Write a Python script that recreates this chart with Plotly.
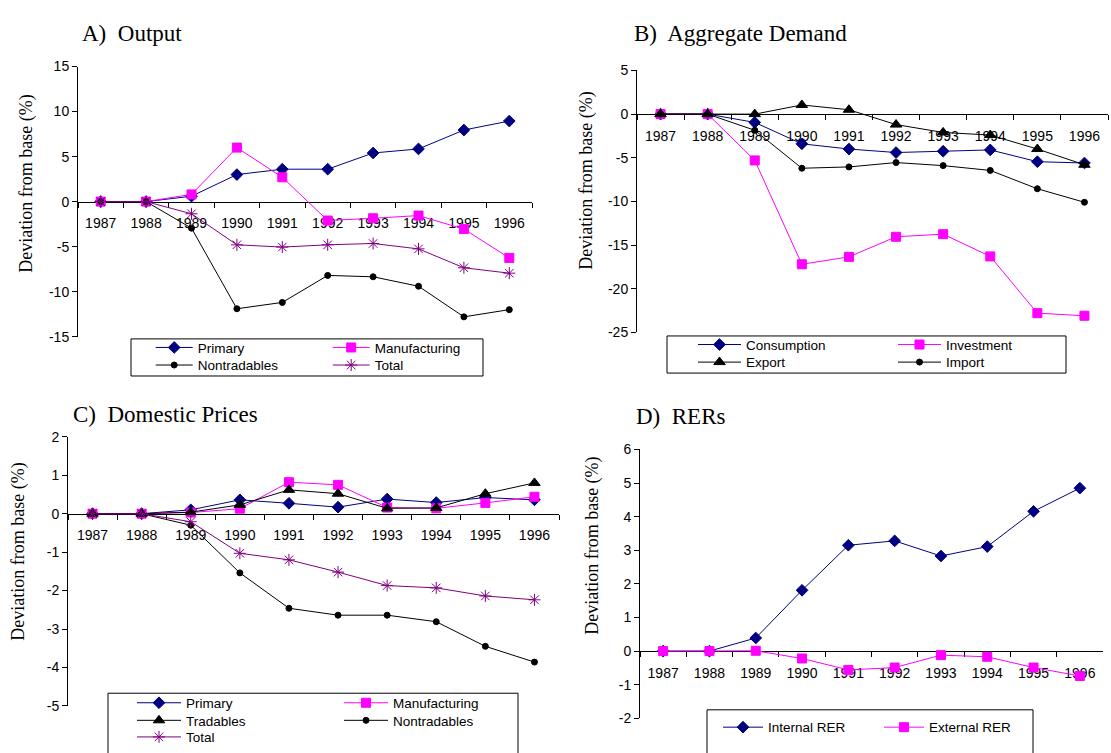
import plotly.graph_objects as go

W, H = 1111, 753

years = ["1987", "1988", "1989", "1990", "1991", "1992", "1993", "1994", "1995", "1996"]

# A) Output
out_primary = [0, 0, 0.6, 3.0, 3.6, 3.6, 5.4, 5.85, 7.95, 8.95]
out_manufacturing = [0, 0, 0.8, 6.0, 2.7, -2.1, -1.85, -1.55, -3.05, -6.25]
out_nontradables = [0, 0, -2.95, -11.9, -11.2, -8.2, -8.35, -9.4, -12.8, -12.0]
out_total = [0, 0, -1.35, -4.8, -5.05, -4.8, -4.65, -5.25, -7.35, -7.95]
out_ticks = [-15, -10, -5, 0, 5, 10, 15]
out_ticktext = ["-15", "-10", "-5", "0", "5", "10", "15"]

# B) Aggregate Demand
ad_consumption = [0, 0, -0.95, -3.4, -4.0, -4.4, -4.25, -4.1, -5.45, -5.6]
ad_investment = [0, 0, -5.3, -17.2, -16.35, -14.05, -13.75, -16.3, -22.8, -23.1]
ad_export = [0, 0, 0.0, 1.05, 0.5, -1.2, -2.1, -2.4, -4.0, -5.8]
ad_import = [0, 0, -1.85, -6.2, -6.05, -5.55, -5.9, -6.45, -8.55, -10.1]
ad_ticks = [-25, -20, -15, -10, -5, 0, 5]
ad_ticktext = ["-25", "-20", "-15", "-10", "-5", "0", "5"]

# C) Domestic Prices
pr_primary = [0, 0, 0.1, 0.36, 0.27, 0.17, 0.38, 0.29, 0.42, 0.36]
pr_manufacturing = [0, 0, 0.03, 0.13, 0.82, 0.75, 0.16, 0.14, 0.28, 0.44]
pr_tradables = [0, 0, 0.04, 0.23, 0.62, 0.52, 0.14, 0.15, 0.52, 0.8]
pr_nontradables = [0, 0, -0.3, -1.54, -2.46, -2.64, -2.64, -2.81, -3.45, -3.86]
pr_total = [0, 0, -0.21, -1.03, -1.2, -1.52, -1.87, -1.93, -2.14, -2.24]
pr_ticks = [-5, -4, -3, -2, -1, 0, 1, 2]
pr_ticktext = ["-5", "-4", "-3", "-2", "-1", "0", "1", "2"]

# D) RERs
rer_internal = [0, 0, 0.39, 1.81, 3.15, 3.28, 2.83, 3.11, 4.16, 4.85]
rer_external = [0, 0, 0.01, -0.22, -0.56, -0.49, -0.12, -0.17, -0.49, -0.74]
rer_ticks = [-2, -1, 0, 1, 2, 3, 4, 5, 6]
rer_ticktext = ["-2", "-1", "0", "1", "2", "3", "4", "5", "6"]

NAVY = "#000080"
MAG = "#FF00FF"
BLK = "#000000"
PUR = "#800080"

STY = {
    "diamond": dict(color=NAVY, symbol="diamond", size=9),
    "square": dict(color=MAG, symbol="square", size=9),
    "circle": dict(color=BLK, symbol="circle", size=6),
    "triangle": dict(color=BLK, symbol="triangle-up", size=10),
    "star": dict(color=PUR, symbol="asterisk-open", size=10),
}


def fx(px):
    return px / W


def fy(py):
    return 1 - py / H


fig = go.Figure()

panels = [
    dict(k="", xd=(78, 532), yd=(60, 336.7), rng=(-15, 15), tv=out_ticks, tt=out_ticktext),
    dict(k="2", xd=(637, 1108), yd=(64, 332.3), rng=(-25, 5), tv=ad_ticks, tt=ad_ticktext),
    dict(k="3", xd=(68, 559), yd=(439.3, 715), rng=(-5, 2), tv=pr_ticks, tt=pr_ticktext),
    dict(k="4", xd=(640, 1103), yd=(452.3, 727.7), rng=(-2, 6), tv=rer_ticks, tt=rer_ticktext),
]

series = [
    (0, "Primary", out_primary, "diamond", "legend"),
    (0, "Manufacturing", out_manufacturing, "square", "legend"),
    (0, "Nontradables", out_nontradables, "circle", "legend2"),
    (0, "Total", out_total, "star", "legend2"),
    (1, "Consumption", ad_consumption, "diamond", "legend3"),
    (1, "Investment", ad_investment, "square", "legend3"),
    (1, "Export", ad_export, "triangle", "legend4"),
    (1, "Import", ad_import, "circle", "legend4"),
    (2, "Primary", pr_primary, "diamond", "legend5"),
    (2, "Manufacturing", pr_manufacturing, "square", "legend5"),
    (2, "Tradables", pr_tradables, "triangle", "legend6"),
    (2, "Nontradables", pr_nontradables, "circle", "legend6"),
    (2, "Total", pr_total, "star", "legend7"),
    (3, "Internal RER", rer_internal, "diamond", "legend8"),
    (3, "External RER", rer_external, "square", "legend8"),
]

for pi, name, data, st, leg in series:
    k = panels[pi]["k"]
    s = STY[st]
    fig.add_trace(go.Scatter(
        x=years, y=data, name=name, mode="lines+markers",
        xaxis="x" + k, yaxis="y" + k, legend=leg,
        line=dict(color=s["color"], width=1),
        marker=dict(symbol=s["symbol"], size=s["size"], color=s["color"],
                    line=dict(color=s["color"], width=1)),
    ))

tickfont = dict(family="Liberation Sans, Arial", size=14, color="black")
layout = dict(
    width=W, height=H,
    margin=dict(l=0, r=0, t=0, b=0),
    paper_bgcolor="white", plot_bgcolor="white",
    showlegend=True,
)

for p in panels:
    k = p["k"]
    ydom = (fy(p["yd"][1]), fy(p["yd"][0]))
    lo, hi = p["rng"]
    zero_pos = ydom[0] + (0 - lo) / (hi - lo) * (ydom[1] - ydom[0])
    layout["xaxis" + k] = dict(
        domain=(fx(p["xd"][0]), fx(p["xd"][1])),
        anchor="free", position=zero_pos,
        type="category", range=[-0.5, 9.5],
        showline=True, linecolor="black", linewidth=1,
        ticks="outside", tickson="boundaries", ticklen=5, tickcolor="black",
        tickfont=tickfont, ticklabelstandoff=9,
        showgrid=False, zeroline=False, layer="below traces", fixedrange=True,
    )
    layout["yaxis" + k] = dict(
        domain=ydom, anchor="x" + k, range=[lo, hi],
        tickmode="array", tickvals=p["tv"], ticktext=p["tt"],
        showline=True, linecolor="black", linewidth=1,
        ticks="outside", ticklen=5, tickcolor="black",
        tickfont=tickfont, showgrid=False, zeroline=False,
        layer="below traces", fixedrange=True,
    )

legfont = dict(family="Liberation Sans, Arial", size=13.5, color="black")
leg_rows = [
    ("legend", 155.7, 348, 37, 125),
    ("legend2", 155.7, 366, 37, 125),
    ("legend3", 698, 345, 43, 142),
    ("legend4", 698, 363, 43, 142),
    ("legend5", 137, 712, 44, 148),
    ("legend6", 137, 730, 44, 148),
    ("legend7", 137, 747, 44, 148),
    ("legend8", 723, 737, 40, 106),
]
for lid, sx, cy, iw, ew in leg_rows:
    layout[lid] = dict(
        orientation="h", x=fx(sx - 5), xanchor="left", y=fy(cy), yanchor="middle",
        xref="paper", yref="paper",
        itemwidth=iw, entrywidth=ew, entrywidthmode="pixels",
        bgcolor="rgba(0,0,0,0)", borderwidth=0, font=legfont,
        itemclick=False, itemdoubleclick=False,
    )

shapes = []
for x0, x1, y0, y1 in [(131, 483, 339, 377), (667, 1066, 336, 374),
                       (108, 518, 702, 770), (707, 1033, 719, 770)]:
    shapes.append(dict(type="rect", xref="paper", yref="paper",
                       x0=fx(x0), x1=fx(x1), y0=fy(y1), y1=fy(y0),
                       line=dict(color="black", width=1), fillcolor="rgba(0,0,0,0)",
                       layer="below"))
layout["shapes"] = shapes

serif = dict(family="Liberation Serif, Times New Roman", color="black")
ann = []
for txt, x, y in [("A)\u00a0 Output", 80, 26), ("B)\u00a0 Aggregate Demand", 632, 26),
                  ("C)\u00a0 Domestic Prices", 71, 416), ("D)\u00a0 RERs", 634, 418)]:
    ann.append(dict(text=txt, x=fx(x), y=fy(y), xref="paper", yref="paper",
                    xanchor="left", yanchor="middle", showarrow=False,
                    font=dict(size=23, **serif)))
for x, y in [(27, 180), (587, 177), (19, 557), (593, 551)]:
    ann.append(dict(text="Deviation from base (%)", x=fx(x), y=fy(y),
                    xref="paper", yref="paper", xanchor="center", yanchor="middle",
                    textangle=-90, showarrow=False, font=dict(size=18, **serif)))
layout["annotations"] = ann

fig.update_layout(**layout)
fig.write_html("out.html", config={"displayModeBar": False})
